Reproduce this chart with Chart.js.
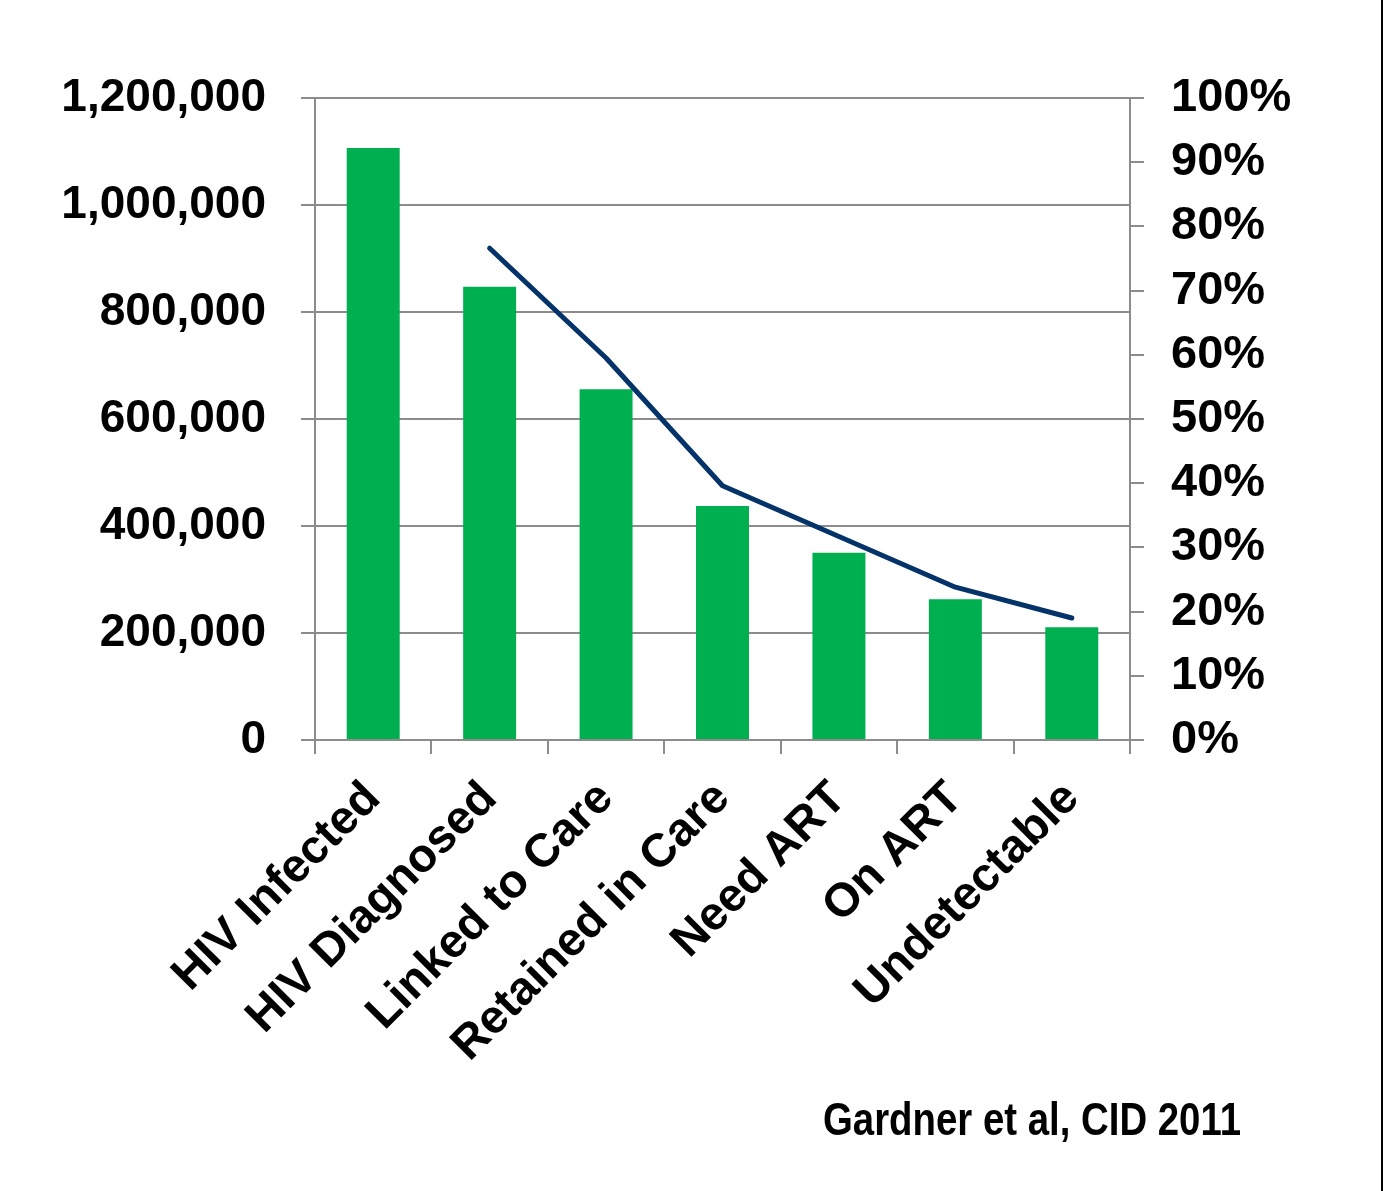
<!DOCTYPE html>
<html>
<head>
<meta charset="utf-8">
<script src="https://cdn.jsdelivr.net/npm/chart.js@4/dist/chart.umd.min.js"></script>
<style>
  html, body { margin: 0; padding: 0; background: #ffffff; }
  #wrap { width: 1383px; height: 1191px; position: relative; }
  canvas { display: block; }
</style>
</head>
<body>
<div id="wrap"><canvas id="cascade" width="1383" height="1191"></canvas></div>
<script>
// HIV care cascade (United States)
const categories = [
  'HIV Infected', 'HIV Diagnosed', 'Linked to Care', 'Retained in Care',
  'Need ART', 'On ART', 'Undetectable'
];
// number of persons at each stage
const personCounts = [1106400, 847000, 655500, 437400, 350100, 263000, 210600];
// share of all infected persons reaching the stage (%)
const stagePercent = [null, 76.6, 59.5, 39.6, 31.7, 23.8, 19.0];

const countAxis = { min: 0, max: 1200000, step: 200000 };
const percentAxis = { min: 0, max: 100, step: 10 };
const sourceNote = 'Gardner et al, CID 2011';

const FONT = "'Liberation Sans', Arial, Helvetica, sans-serif";
const GRID = '#8c8c8c';

const footnote = {
  id: 'footnote',
  afterDraw(chart) {
    const ctx = chart.ctx;
    ctx.save();
    ctx.fillStyle = '#000000';
    ctx.font = 'bold 46px ' + FONT;
    ctx.textAlign = 'left';
    ctx.textBaseline = 'alphabetic';
    // condensed face: squeeze the bold sans to a narrow width
    const natural = ctx.measureText(sourceNote).width;
    const squeeze = 418 / natural;
    ctx.translate(823, 1135);
    ctx.scale(squeeze, 1);
    ctx.fillText(sourceNote, 0, 0);
    ctx.restore();
    // frame edge on the right
    ctx.save();
    ctx.fillStyle = '#000000';
    ctx.fillRect(1381, 0, 2, chart.height);
    ctx.restore();
  }
};

new Chart(document.getElementById('cascade'), {
  data: {
    labels: categories,
    datasets: [
      {
        type: 'line',
        data: stagePercent,
        yAxisID: 'yPct',
        borderColor: '#033369',
        borderWidth: 5,
        borderCapStyle: 'round',
        borderJoinStyle: 'round',
        pointRadius: 0,
        tension: 0,
        order: 0
      },
      {
        type: 'bar',
        data: personCounts,
        yAxisID: 'y',
        backgroundColor: '#00b050',
        categoryPercentage: 1.0,
        barPercentage: 0.455,
        order: 1
      }
    ]
  },
  options: {
    responsive: false,
    animation: false,
    devicePixelRatio: 1,
    layout: { padding: { left: 0, right: 0, top: 98, bottom: 0 } },
    plugins: {
      legend: { display: false },
      tooltip: { enabled: false }
    },
    scales: {
      x: {
        position: 'bottom',
        offset: true,
        grid: {
          offset: true,
          drawOnChartArea: false,
          drawTicks: true,
          tickLength: 14,
          color: GRID,
          lineWidth: 2
        },
        border: { display: true, color: GRID, width: 2 },
        ticks: {
          autoSkip: false,
          minRotation: 45,
          maxRotation: 45,
          padding: 17,
          color: '#000000',
          font: { family: FONT, size: 47, weight: 'bold' }
        },
        afterFit(scale) { scale.height = 1191 - 740; }
      },
      y: {
        position: 'left',
        min: countAxis.min,
        max: countAxis.max,
        grid: {
          drawOnChartArea: true,
          drawTicks: true,
          tickLength: 14,
          color: GRID,
          lineWidth: 2
        },
        border: { display: true, color: GRID, width: 2 },
        ticks: {
          stepSize: countAxis.step,
          padding: 35,
          color: '#000000',
          font: { family: FONT, size: 46, weight: 'bold' },
          callback: v => v.toLocaleString('en-US')
        },
        afterFit(scale) { scale.width = 315; }
      },
      yPct: {
        position: 'right',
        min: percentAxis.min,
        max: percentAxis.max,
        grid: {
          drawOnChartArea: false,
          drawTicks: true,
          tickLength: 14,
          color: GRID,
          lineWidth: 2
        },
        border: { display: true, color: GRID, width: 2 },
        ticks: {
          stepSize: percentAxis.step,
          padding: 27,
          color: '#000000',
          font: { family: FONT, size: 47, weight: 'bold' },
          callback: v => v + '%'
        },
        afterFit(scale) { scale.width = 1383 - 1130; }
      }
    }
  },
  plugins: [footnote]
});
</script>
</body>
</html>
